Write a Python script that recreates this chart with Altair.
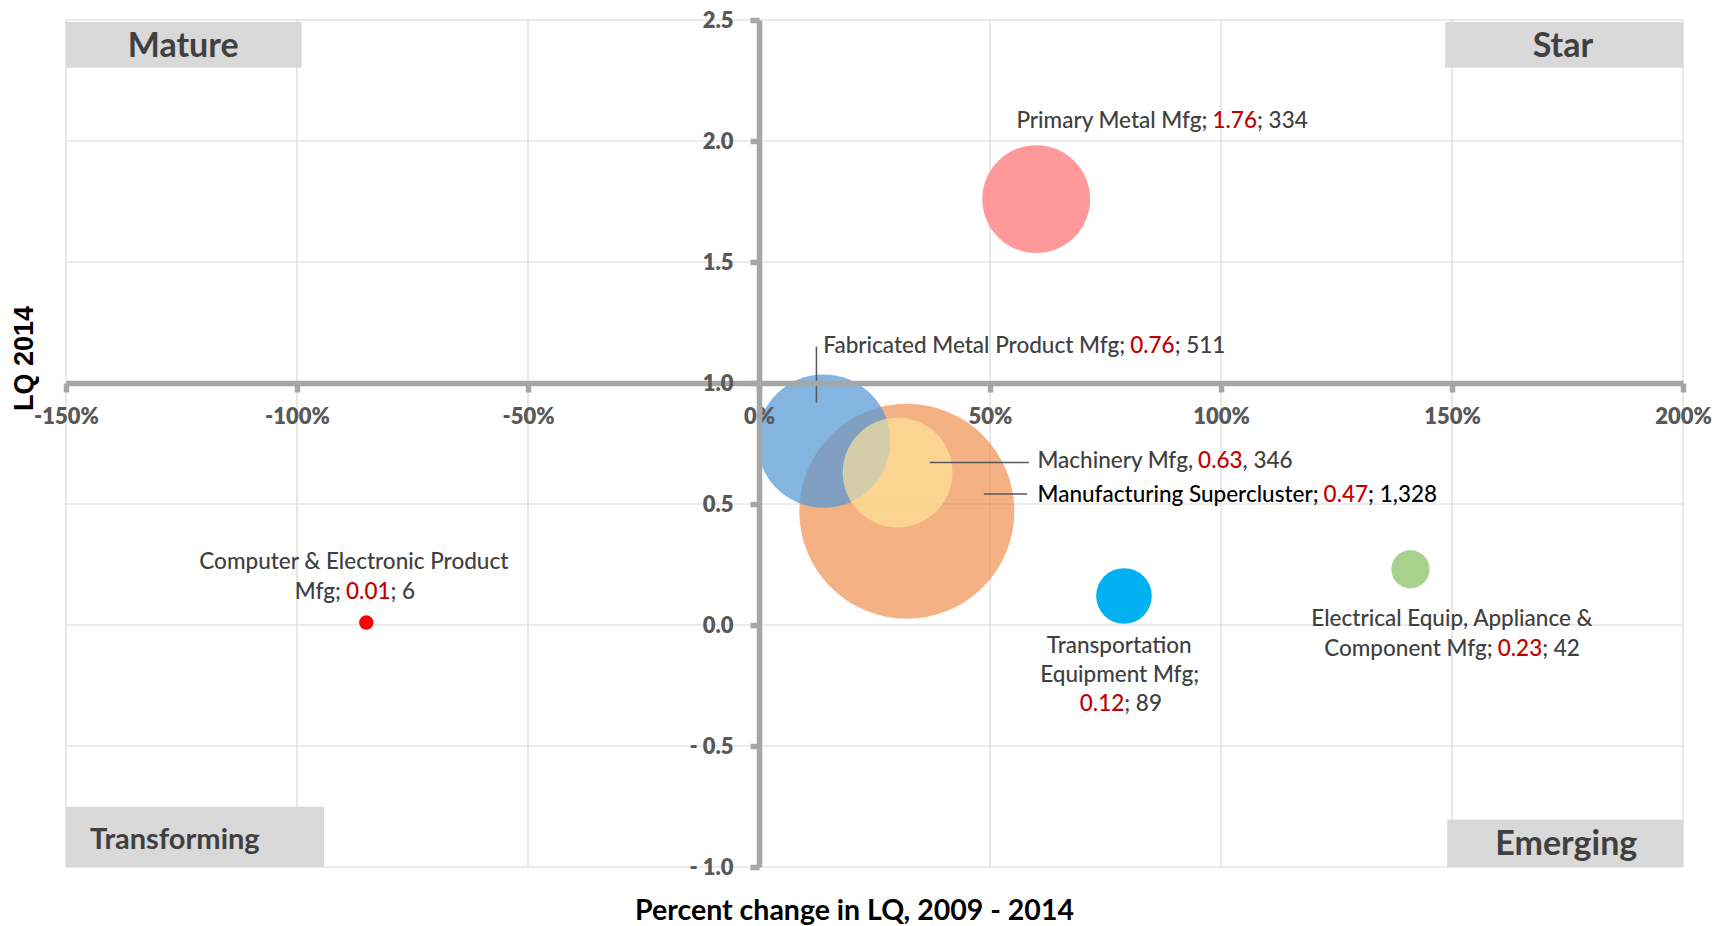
import altair as alt
import pandas as pd

# ------------------------------------------------------------------ data
clusters = [
    "Manufacturing Supercluster",
    "Fabricated Metal Product Mfg",
    "Machinery Mfg",
    "Primary Metal Mfg",
    "Transportation Equipment Mfg",
    "Electrical Equip, Appliance & Component Mfg",
    "Computer & Electronic Product Mfg",
]
pct_change = [0.32, 0.14, 0.30, 0.60, 0.79, 1.41, -0.85]   # percent change in LQ, 2009-2014
lq_2014 = [0.47, 0.76, 0.63, 1.76, 0.12, 0.23, 0.01]
employment = [1328, 511, 346, 334, 89, 42, 6]
label_sep = [";", ";", ",", ";", ";", ";", ";"]

x_ticks = [-1.5, -1.0, -0.5, 0.0, 0.5, 1.0, 1.5, 2.0]
y_ticks = [-1.0, -0.5, 0.0, 0.5, 1.0, 1.5, 2.0, 2.5]

quadrants = ["Mature", "Star", "Transforming", "Emerging"]

# ------------------------------------------------------------------ styles
bubble_fill = ["#ED7D31", "#5B9BD5", "#FFE699", "#FF9999", "#00B0F0", "#A9D18E", "#FF0000"]
bubble_alpha = [0.6, 0.75, 0.65, 1.0, 1.0, 1.0, 1.0]
GRAY_TXT = "#404040"
RED_TXT = "#C00000"
AXIS_GRAY = "#A6A6A6"
GRID_GRAY = "#D9D9D9"
FONT = "Lato"
LABEL_SIZE = 22.5

# label layout (annotation positions in data units)
label_layout = {
    "Manufacturing Supercluster": dict(head=[], lead="Manufacturing Supercluster",
                                       anchor=(1.2221, 0.510), color="#000000",
                                       leader=(0.4867, 0.5804, 0.541, 0.541)),
    "Fabricated Metal Product Mfg": dict(head=[], lead="Fabricated Metal Product Mfg",
                                         anchor=(0.8034, 1.123),
                                         leader=(0.1243, 0.1243, 1.151, 0.919)),
    "Machinery Mfg": dict(head=[], lead="Machinery Mfg", anchor=(0.9504, 0.648),
                          leader=(0.3696, 0.5841, 0.671, 0.671)),
    "Primary Metal Mfg": dict(head=[], lead="Primary Metal Mfg", anchor=(0.9816, 2.055)),
    "Transportation Equipment Mfg": dict(head=[("Transportation", 0.7796, -0.116),
                                               ("Equipment Mfg;", 0.7807, -0.236)],
                                         lead="", anchor=(0.6943, -0.357)),
    "Electrical Equip, Appliance & Component Mfg": dict(
        head=[("Electrical Equip, Appliance &", 1.500, -0.003)],
        lead="Component Mfg", anchor=(1.599, -0.127)),
    "Computer & Electronic Product Mfg": dict(
        head=[("Computer & Electronic Product", -0.877, 0.231)],
        lead="Mfg", anchor=(-0.8939, 0.107)),
}

quad_box = pd.DataFrame({
    "q": quadrants,
    "x0": [-1.5, 1.485, -1.5, 1.4897],
    "x1": [-0.9903, 2.0, -0.9415, 2.0],
    "y0": [2.4917, 2.4917, -0.751, -0.804],
    "y1": [2.303, 2.303, -1.0, -1.0],
})
quad_txt = pd.DataFrame({
    "q": quadrants,
    "x": [-1.2464, 1.7402, -1.2645, 1.7473],
    "y": [2.346, 2.346, -0.924, -0.952],
    "s": [34, 34, 29, 34],
})

# ------------------------------------------------------------------ tables
bubbles = pd.DataFrame({
    "cluster": clusters, "x": pct_change, "y": lq_2014, "emp": employment,
    "fill": bubble_fill, "alpha": bubble_alpha, "z": list(range(len(clusters))),
})

center_rows, prefix_rows, value_rows, number_rows, leader_rows = [], [], [], [], []
for i, name in enumerate(clusters):
    lay = label_layout[name]
    col = lay.get("color", GRAY_TXT)
    for txt, lx, ly in lay["head"]:
        center_rows.append(dict(x=lx, y=ly, t=txt, c=col))
    ax, ay = lay["anchor"]
    sep = label_sep[i]
    num = f"{lq_2014[i]:.2f}"
    if lay["lead"]:
        prefix_rows.append(dict(x=ax, y=ay, t=lay["lead"] + sep, c=col))
    value_rows.append(dict(x=ax, y=ay, t=f"{num}{sep} {employment[i]:,}", c=col))
    number_rows.append(dict(x=ax, y=ay, t=num, c=RED_TXT))
    if "leader" in lay:
        x0, x1, y0, y1 = lay["leader"]
        leader_rows.append(dict(x=x0, x2=x1, y=y0, y2=y1))

center_df = pd.DataFrame(center_rows)
prefix_df = pd.DataFrame(prefix_rows)
value_df = pd.DataFrame(value_rows)
number_df = pd.DataFrame(number_rows)
leader_df = pd.DataFrame(leader_rows)

# ------------------------------------------------------------------ scales / axes
xs = alt.Scale(domain=[-1.5, 2.0], nice=False, zero=False)
ys = alt.Scale(domain=[-1.0, 2.5], nice=False, zero=False)

W, H = 1617, 847
x_off = -round(H * (1.0 - (-1.0)) / 3.5)     # x axis crosses at LQ = 1.0
y_off = -round(W * (0.0 - (-1.5)) / 3.5)     # y axis crosses at 0 %

x_axis = alt.Axis(
    values=x_ticks, labelExpr="round(datum.value*100) + '%'", orient="bottom", offset=x_off,
    domainColor=AXIS_GRAY, domainWidth=5.5, tickColor=AXIS_GRAY, tickWidth=5.5, tickSize=9,
    labelFont=FONT, labelFontSize=22, labelFontWeight=800, labelColor="#595959",
    labelPadding=14, labelFlush=False, labelOverlap=False, labelBound=False, grid=False,
    title="Percent change in LQ, 2009 - 2014", titleFont=FONT, titleFontSize=28.5,
    titleFontWeight="bold", titleColor="#000000", titleX=788, titleY=536,
    titleAlign="center", titleBaseline="alphabetic", zindex=1,
)
y_axis = alt.Axis(
    values=y_ticks,
    labelExpr="datum.value < 0 ? '- ' + format(-datum.value, '.1f') : format(datum.value, '.1f')",
    orient="left", offset=y_off,
    domainColor=AXIS_GRAY, domainWidth=5.5, tickColor=AXIS_GRAY, tickWidth=5.5, tickSize=9,
    labelFont=FONT, labelFontSize=22, labelFontWeight=800, labelColor="#595959",
    labelPadding=17, labelOverlap=False, labelBound=False, grid=False,
    title="LQ 2014", titleFont="Liberation Sans", titleFontSize=27, titleFontWeight="bold",
    titleColor="#000000", titleAngle=270, titleX=-727, titleY=338,
    titleAlign="center", titleBaseline="alphabetic", zindex=1,
)


def X(field):
    return alt.X(field, scale=xs, axis=x_axis)


def Y(field):
    return alt.Y(field, scale=ys, axis=y_axis)


# ------------------------------------------------------------------ layers
vgrid = alt.Chart(pd.DataFrame({"x": x_ticks})).mark_rule(
    color=GRID_GRAY, strokeWidth=1.2).encode(x=X("x:Q"))
hgrid = alt.Chart(pd.DataFrame({"y": y_ticks})).mark_rule(
    color=GRID_GRAY, strokeWidth=1.2).encode(y=Y("y:Q"))

boxes = alt.Chart(quad_box).mark_rect(color=GRID_GRAY).encode(
    x=X("x0:Q"), x2="x1:Q", y=Y("y0:Q"), y2="y1:Q",
)
box_text = alt.Chart(quad_txt).mark_text(
    font=FONT, fontWeight="bold", color=GRAY_TXT, align="center", baseline="alphabetic"
).encode(
    x=X("x:Q"), y=Y("y:Q"), text="q:N", size=alt.Size("s:Q", scale=None),
)

circles = alt.Chart(bubbles).mark_circle(stroke=None).encode(
    x=X("x:Q"), y=Y("y:Q"),
    size=alt.Size("emp:Q", scale=alt.Scale(domain=[0, max(employment)],
                                           range=[0, 5.9 ** 2 * max(employment)]),
                  legend=None),
    color=alt.Color("fill:N", scale=None),
    opacity=alt.Opacity("alpha:Q", scale=None),
    order=alt.Order("z:Q"),
)

leaders = alt.Chart(leader_df).mark_rule(color="#595959", strokeWidth=1.5).encode(
    x=X("x:Q"), x2="x2:Q", y=Y("y:Q"), y2="y2:Q",
)


def text_layer(df, align, dx=0, **extra):
    return alt.Chart(df).mark_text(
        font=FONT, fontSize=LABEL_SIZE, fontWeight=500, align=align, baseline="alphabetic",
        dx=dx, **extra
    ).encode(
        x=X("x:Q"), y=Y("y:Q"), text="t:N", color=alt.Color("c:N", scale=None),
    )


# white knock-out under the red numbers, so that the grey copy beneath leaves no fringe
knockout = alt.Chart(number_df).mark_text(
    font=FONT, fontSize=LABEL_SIZE, fontWeight=500, align="left", baseline="alphabetic",
    color="white", stroke="white", strokeWidth=1.2,
).encode(x=X("x:Q"), y=Y("y:Q"), text="t:N")

chart = alt.layer(
    vgrid, hgrid, boxes, box_text, circles, leaders,
    text_layer(center_df, "center"),
    text_layer(prefix_df, "right", dx=-5),
    text_layer(value_df, "left"),
    knockout,
    text_layer(number_df, "left"),
).properties(
    width=W, height=H,
    autosize=alt.AutoSizeParams(type="none"),
    padding={"left": 58, "top": 12, "right": 40, "bottom": 58},
).configure_view(stroke=None)

chart.save("out.html", embed_options={"renderer": "svg", "actions": False})
